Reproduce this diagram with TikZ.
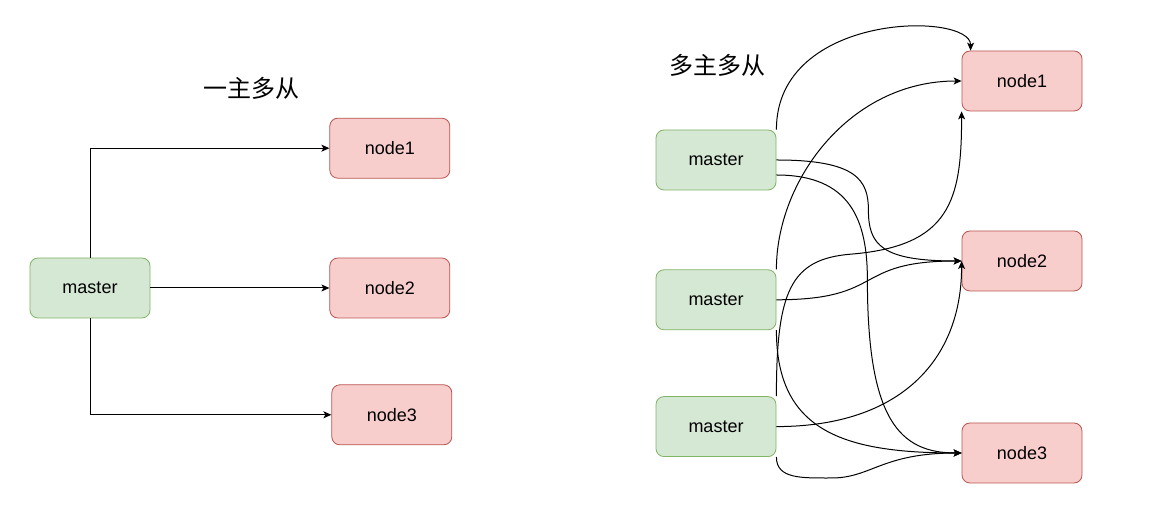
\documentclass[tikz,border=0pt]{standalone}
\usepackage{fontspec}
\setmainfont{Liberation Sans}
\newfontfamily\cjk{Noto Sans CJK SC}
\usetikzlibrary{arrows.meta,positioning}
\definecolor{masterfill}{HTML}{D5E8D4}
\definecolor{masterline}{HTML}{82B366}
\definecolor{slavefill}{HTML}{F8CECC}
\definecolor{slaveline}{HTML}{B85450}

\begin{document}
\begin{tikzpicture}[x=1pt, y=1pt,
    masterbox/.style={rectangle, draw=masterline, fill=masterfill,
        minimum width=120pt, minimum height=60pt, rounded corners=8pt,
        line width=0.8pt, font=\fontsize{18}{20}\selectfont},
    slavebox/.style={masterbox, draw=slaveline, fill=slavefill},
    heading/.style={font=\cjk\fontsize{24}{28}\selectfont},
    link/.style={->, line width=1pt},
    >={Stealth[length=8pt, width=7pt, inset=2pt]}
]
\useasboundingbox (0,0) rectangle (1162,505);

% one master, several slaves
\node[heading] (titleA) at (251,417) {一主多从};
\node[masterbox] (mA) at (90,217) {master};
\node[slavebox, right=179pt of mA] (nA2) {node2};
\node[slavebox, above=79pt of nA2] (nA1) {node1};
\node[slavebox, below=66pt of nA2, xshift=2pt] (nA3) {node3};

\draw[link] (mA.north) |- (nA1.west);
\draw[link] (mA.east) -- (nA2.west);
\draw[link] (mA.south) |- (nA3.west);

% several masters, several slaves
\node[heading] (titleB) at (717,440) {多主多从};
\node[masterbox] (mB1) at (716,345) {master};
\node[masterbox, below=79pt of mB1] (mB2) {master};
\node[masterbox, below=66pt of mB2] (mB3) {master};
\node[slavebox] (nB1) at (1022,424) {node1};
\node[slavebox] (nB2) at (1022,244) {node2};
\node[slavebox] (nB3) at (1022,52) {node3};

\draw[link] (mB1.north east) .. controls +(0,118) and +(0,39) .. ([xshift=9pt]nB1.north west);
\draw[link] (mB1.east) .. controls +(80,0) and +(0,30) .. ++(92,-50)
    .. controls +(0,-35) and +(-80,0) .. (nB2.west);
\draw[link] ([yshift=-15pt]mB1.east) .. controls +(74,0) and +(0,60) .. ++(91,-105)
    .. controls +(0,-140) and +(-62,0) .. (nB3.west);

\draw[link] (mB2.north east) .. controls +(0,89) and +(-112,0) .. (nB1.west);
\draw[link] (mB2.east) .. controls +(110,0) and +(-110,0) .. (nB2.west);
\draw[link] (mB2.south east) .. controls +(0,-100) and +(-120,0) .. (nB3.west);

\draw[link] (mB3.north east) .. controls +(0,105) and +(-60,-5) .. ++(74,142)
    .. controls +(100,8) and +(0,-89) .. (nB1.south west);
\draw[link] (mB3.east) .. controls +(124,0) and +(0,-99) .. (nB2.west);
\draw[link] (mB3.south east) .. controls +(0,-22) and +(-30,0) .. ++(55,-21)
    .. controls +(40,0) and +(-80,0) .. (nB3.west);
\end{tikzpicture}
\end{document}
